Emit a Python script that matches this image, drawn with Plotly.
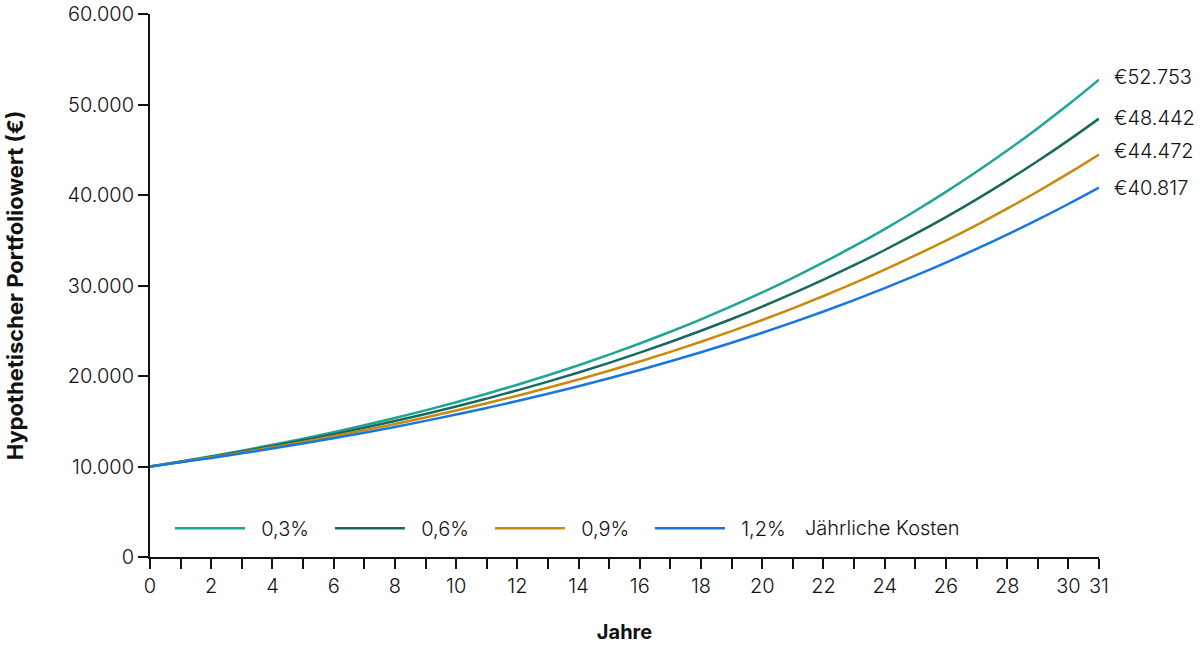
import plotly.graph_objects as go

years = list(range(0, 32))

cost_labels = ["0,3%", "0,6%", "0,9%", "1,2%"]
colors = ["#1fa597", "#17685f", "#c8890c", "#1677e3"]

values_03 = [10000, 10551, 11133, 11746, 12394, 13077, 13797, 14558, 15360, 16206,
             17099, 18042, 19036, 20085, 21192, 22360, 23592, 24893, 26264, 27712,
             29239, 30851, 32551, 34345, 36237, 38234, 40341, 42565, 44911, 47386,
             49997, 52753]
values_06 = [10000, 10522, 11071, 11650, 12258, 12898, 13571, 14280, 15026, 15810,
             16636, 17504, 18418, 19380, 20392, 21456, 22577, 23756, 24996, 26301,
             27674, 29119, 30640, 32240, 33923, 35694, 37558, 39519, 41582, 43753,
             46038, 48442]
values_09 = [10000, 10493, 11011, 11554, 12123, 12721, 13349, 14007, 14698, 15423,
             16183, 16981, 17819, 18697, 19619, 20587, 21602, 22667, 23785, 24958,
             26189, 27481, 28836, 30258, 31750, 33316, 34959, 36683, 38492, 40390,
             42382, 44472]
values_12 = [10000, 10464, 10950, 11458, 11990, 12546, 13129, 13738, 14376, 15043,
             15741, 16472, 17237, 18037, 18874, 19750, 20667, 21626, 22630, 23680,
             24779, 25929, 27133, 28392, 29710, 31089, 32532, 34042, 35622, 37276,
             39006, 40817]

end_labels = ["€52.753", "€48.442", "€44.472", "€40.817"]
label_yshift = [3, 1, 4, 0]

x_tickvals = years
x_ticktext = [str(y) if (y % 2 == 0 or y == 31) else "" for y in years]
y_tickvals = [0, 10000, 20000, 30000, 40000, 50000, 60000]
y_ticktext = ["0", "10.000", "20.000", "30.000", "40.000", "50.000", "60.000"]

FONT = "Inter"
FS = 20
TXT = "#111111"
series = [values_03, values_06, values_09, values_12]

fig = go.Figure()
for name, vals, col in zip(cost_labels, series, colors):
    fig.add_trace(go.Scatter(
        x=years, y=vals, mode="lines", name="\u00a0\u00a0" + name,
        line=dict(color=col, width=2.5, shape="spline"),
        hoverinfo="skip",
    ))

for vals, lab, ys in zip(series, end_labels, label_yshift):
    fig.add_annotation(x=years[-1], y=vals[-1], text=lab, showarrow=False,
                       xanchor="left", yanchor="middle", xshift=13, yshift=ys,
                       font=dict(size=FS, color=TXT, family=FONT, weight=300))

fig.add_annotation(xref="paper", yref="paper", x=0.688, y=0.053,
                   text="Jährliche Kosten", showarrow=False,
                   xanchor="left", yanchor="middle",
                   font=dict(size=FS, color=TXT, family=FONT, weight=300))

fig.update_layout(
    width=1200, height=645,
    margin=dict(l=150, r=101, t=14, b=88, autoexpand=False),
    paper_bgcolor="white", plot_bgcolor="white",
    font=dict(family=FONT, size=FS, color=TXT, weight=300),
    showlegend=True,
    legend=dict(orientation="h", x=0.021, y=0.053, xanchor="left", yanchor="middle",
                itemwidth=70, entrywidth=75, font=dict(size=FS, family=FONT, weight=300, color=TXT),
                bgcolor="rgba(0,0,0,0)", traceorder="normal"),
    xaxis=dict(range=[0, 31], tickmode="array", tickvals=x_tickvals, ticktext=x_ticktext,
               showgrid=False, zeroline=False, showline=True, linecolor="#111",
               linewidth=2, ticks="outside", ticklen=10, tickwidth=2, tickcolor="#111",
               automargin=False,
               tickfont=dict(size=FS, family=FONT, weight=300, color=TXT),
               title=dict(text="<b>Jahre</b>", font=dict(size=FS, family=FONT, color=TXT), standoff=28),
               fixedrange=True),
    yaxis=dict(range=[0, 60000], tickmode="array", tickvals=y_tickvals, ticktext=y_ticktext,
               showgrid=False, zeroline=False, showline=True, linecolor="#111",
               linewidth=2, ticks="outside", ticklen=10, tickwidth=2, tickcolor="#111",
               automargin=False,
               tickfont=dict(size=FS, family=FONT, weight=300, color=TXT),
               title=dict(text="<b>Hypothetischer Portfoliowert (€)</b>",
                          font=dict(size=22, family=FONT, color=TXT), standoff=38),
               fixedrange=True),
)

fig.write_html("out.html", config={"displayModeBar": False},
               post_script="document.body.style.margin='0';")
